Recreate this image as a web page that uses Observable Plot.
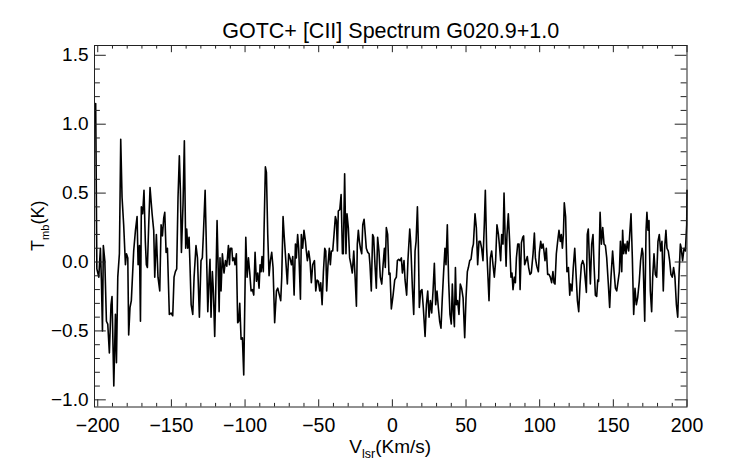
<!DOCTYPE html>
<html><head><meta charset="utf-8">
<script src="https://cdn.jsdelivr.net/npm/d3@7"></script>
<script src="https://cdn.jsdelivr.net/npm/@observablehq/plot@0.6"></script>
<style>html,body{margin:0;padding:0;background:#fff;} #chart{width:742px;height:464px;}</style>
</head><body><div id="chart"></div>
<script>
const titleText = "GOTC+ [CII] Spectrum G020.9+1.0";
const xMajorTicks = [-200, -150, -100, -50, 0, 50, 100, 150, 200];
const yMajorTicks = [-1.0, -0.5, 0.0, 0.5, 1.0, 1.5];
const velocity = [
-201.4,-200.6,-199.3,-198.2,-197.5,-196.8,-196.2,-195.2,-194.1,-193.2,-192.1,-191.0,-190.3,-189.1,-188.0,-187.3,-186.4,-185.3,-184.4,-183.5,
-182.4,-181.2,-180.5,-179.6,-179.0,-178.1,-177.2,-175.6,-174.4,-173.3,-172.6,-171.7,-171.0,-170.4,-169.5,-168.6,-167.7,-167.0,-166.3,-165.4,
-164.5,-163.1,-162.0,-161.3,-160.2,-159.1,-157.9,-157.0,-156.1,-155.2,-154.5,-153.6,-152.7,-151.4,-150.2,-149.1,-148.2,-147.3,-146.4,-145.5,
-144.6,-143.9,-143.2,-142.1,-141.2,-140.3,-139.6,-138.9,-138.0,-137.3,-136.6,-135.5,-134.6,-133.3,-132.3,-131.0,-129.9,-129.0,-128.3,-127.1,
-126.5,-125.3,-124.4,-123.8,-123.1,-122.2,-121.5,-120.6,-119.9,-119.0,-118.1,-117.6,-117.0,-116.3,-115.4,-114.3,-113.3,-112.4,-111.3,-110.6,
-110.0,-109.0,-108.4,-107.5,-106.8,-105.9,-105.0,-104.3,-103.6,-102.7,-101.8,-100.9,-99.5,-98.6,-97.7,-96.8,-95.9,-95.0,-94.1,-93.2,
-92.3,-91.4,-90.5,-89.8,-89.1,-88.5,-87.6,-87.1,-86.2,-85.5,-84.6,-83.7,-82.8,-81.9,-81.0,-79.9,-78.7,-77.8,-76.7,-75.8,
-75.1,-74.2,-73.5,-71.3,-70.4,-69.5,-68.5,-67.6,-66.7,-65.8,-65.2,-64.3,-63.6,-62.4,-61.8,-60.9,-60.0,-59.0,-58.4,-57.7,
-56.8,-55.9,-55.0,-54.1,-52.9,-52.0,-51.1,-50.2,-49.3,-48.6,-47.7,-46.8,-45.9,-45.2,-44.6,-43.7,-42.8,-42.1,-41.4,-40.5,
-39.6,-38.7,-38.0,-37.3,-36.7,-35.7,-34.8,-33.9,-33.3,-32.4,-31.5,-30.8,-29.9,-29.0,-28.1,-27.2,-26.2,-25.3,-24.4,-23.8,
-23.1,-22.4,-21.7,-20.8,-20.1,-19.2,-18.6,-17.7,-16.7,-15.8,-15.2,-14.3,-13.4,-12.7,-11.8,-10.9,-10.0,-9.1,-8.2,-7.2,
-6.3,-5.4,-4.8,-4.1,-3.2,-2.3,-1.6,-0.7,0.5,1.6,2.7,3.4,4.3,5.2,6.1,6.8,7.9,8.6,9.7,10.6,
11.8,12.4,13.6,14.5,15.4,16.1,17.0,17.6,18.3,19.2,20.1,21.0,22.2,23.1,24.0,24.9,25.8,26.7,27.6,28.5,
29.4,30.3,31.2,32.1,33.0,33.9,34.8,35.7,36.4,37.3,38.2,39.1,40.0,40.7,41.4,42.1,42.8,43.4,44.3,45.2,
46.1,47.0,48.0,49.1,50.0,50.9,51.6,52.5,53.4,54.3,55.0,56.1,57.0,57.9,58.8,59.7,60.6,61.5,62.4,63.1,
64.0,64.9,65.6,66.5,67.4,68.3,69.2,70.1,71.0,72.0,72.6,73.5,74.2,75.1,75.8,76.5,77.2,77.8,78.7,79.6,
80.5,81.2,81.9,82.8,83.5,84.2,85.1,86.0,86.7,87.6,88.5,89.1,89.8,90.7,91.6,92.5,93.4,94.3,95.5,96.4,
97.1,98.0,99.1,99.8,100.7,101.4,102.3,102.9,103.6,104.5,105.4,106.3,107.2,108.1,109.0,109.7,110.4,111.3,112.2,113.1,
114.0,114.7,115.4,116.1,116.7,117.6,118.5,119.5,120.4,121.0,121.9,122.8,123.8,124.7,125.6,126.5,127.4,128.3,129.2,130.1,
130.8,131.7,132.3,133.0,133.7,134.4,135.3,136.2,136.9,137.8,138.7,139.4,140.0,141.0,141.9,142.8,143.7,144.6,145.5,146.6,
147.5,148.4,149.5,150.5,151.4,152.3,153.2,154.1,154.8,155.7,156.3,157.0,157.9,158.6,159.5,160.4,161.1,162.0,162.9,163.8,
164.7,165.6,166.5,167.6,168.5,169.5,170.1,171.3,172.2,172.8,173.5,174.2,175.1,176.0,176.7,177.6,178.5,179.4,180.3,181.2,
182.1,183.0,183.9,184.8,185.7,186.4,187.3,188.2,189.1,190.0,190.9,191.8,192.8,193.7,194.6,195.5,196.1,197.0,198.0,198.9,
199.8,200.0
];
const tmb = [
1.15,-0.05,-0.11,0.10,-0.14,-0.50,0.12,0.01,-0.43,-0.45,-0.66,-0.31,-0.25,-0.90,-0.38,-0.73,-0.11,0.06,0.89,0.47,
0.27,-0.02,0.06,0.03,-0.53,-0.33,-0.28,0.08,0.23,0.33,-0.02,0.12,-0.43,0.40,0.35,0.52,0.15,-0.02,-0.04,0.27,
0.54,0.35,0.23,-0.11,0.20,-0.11,-0.21,0.27,0.19,0.32,0.36,0.07,0.10,-0.38,-0.37,-0.39,-0.11,-0.07,-0.05,0.47,
0.77,0.52,0.07,0.42,0.88,0.10,0.24,0.10,0.18,-0.05,-0.31,-0.38,-0.11,0.12,0.03,-0.40,0.01,0.03,0.20,0.52,
0.23,-0.36,-0.11,0.02,-0.40,-0.07,-0.21,-0.54,-0.21,0.30,-0.11,-0.36,0.03,-0.21,0.06,-0.08,0.01,-0.03,0.12,-0.02,
0.10,0.10,0.01,0.03,-0.02,0.06,-0.44,-0.43,-0.30,-0.56,-0.55,-0.82,0.18,-0.11,0.03,-0.08,-0.21,-0.20,-0.24,0.07,
-0.14,-0.08,-0.19,-0.02,-0.07,0.04,-0.07,0.23,0.69,0.65,0.20,-0.10,0.01,0.07,-0.04,-0.44,-0.21,-0.19,-0.24,-0.28,
-0.11,0.33,0.20,-0.16,0.06,0.03,-0.02,0.04,-0.24,0.13,0.03,0.20,0.10,-0.27,0.20,0.10,0.23,0.15,0.08,0.01,
0.08,0.01,-0.15,-0.02,0.01,-0.21,-0.13,-0.14,-0.21,-0.15,-0.31,-0.07,0.10,0.08,-0.21,-0.02,0.10,-0.02,0.08,0.08,
0.20,0.33,0.30,0.08,0.37,0.38,0.49,0.06,0.06,0.64,0.06,0.35,0.25,0.03,-0.02,-0.08,0.08,-0.11,-0.32,0.13,
0.23,0.15,0.10,0.06,0.27,0.31,0.23,0.10,0.07,0.06,-0.02,-0.21,0.20,0.18,-0.02,-0.19,0.18,0.08,-0.11,-0.16,
-0.02,0.10,-0.04,0.25,0.20,-0.09,-0.08,-0.34,-0.24,-0.13,-0.11,0.01,0.02,0.01,0.03,-0.08,0.01,-0.13,-0.24,0.02,
0.24,0.15,-0.19,-0.38,0.08,0.15,0.40,0.15,-0.33,-0.21,-0.20,-0.33,-0.54,-0.31,-0.21,-0.40,-0.28,-0.37,-0.21,-0.01,
-0.31,-0.21,-0.33,-0.43,-0.48,-0.26,-0.07,0.10,-0.02,0.27,-0.14,-0.38,-0.45,-0.16,-0.36,-0.47,-0.04,-0.31,-0.28,-0.38,
-0.16,-0.19,-0.26,-0.55,-0.26,-0.07,-0.04,0.01,0.02,0.10,0.13,0.35,0.25,-0.02,0.15,0.15,0.10,0.01,0.27,0.52,
0.10,-0.11,-0.28,0.03,0.08,-0.02,-0.11,0.01,0.27,0.20,0.13,0.01,0.20,0.13,0.50,0.20,-0.03,0.20,0.35,0.15,
-0.11,-0.08,-0.20,-0.11,-0.15,0.03,0.13,0.13,-0.20,0.14,0.18,0.19,-0.02,0.01,0.04,-0.04,-0.09,-0.08,0.06,0.21,
0.03,-0.03,-0.07,0.07,0.15,0.10,0.13,0.08,0.01,0.10,-0.09,-0.09,-0.11,-0.15,-0.07,-0.15,-0.16,0.06,0.15,0.23,
0.15,0.20,0.10,0.20,0.43,0.33,-0.07,-0.04,-0.24,-0.16,-0.21,-0.04,0.10,-0.09,-0.28,-0.36,-0.16,-0.02,0.01,-0.02,
-0.11,-0.22,0.20,0.24,0.03,-0.16,0.13,0.20,-0.02,-0.24,-0.25,-0.13,-0.14,0.36,0.13,0.25,0.13,0.12,0.03,-0.16,
-0.33,-0.11,0.08,-0.07,-0.19,-0.21,-0.14,-0.07,0.15,-0.07,0.23,0.06,0.13,0.06,0.15,0.08,0.20,0.35,0.03,-0.38,
-0.19,-0.31,-0.26,-0.14,0.01,0.10,0.06,-0.43,0.23,0.36,0.23,0.30,-0.21,-0.36,-0.11,0.06,-0.09,-0.11,0.15,0.20,
0.08,0.15,-0.21,0.10,0.23,0.10,0.08,0.01,-0.09,-0.11,-0.04,-0.11,-0.31,-0.40,-0.09,0.13,0.10,0.01,0.10,0.08,
0.27,0.52
];

const W = 742, H = 464, mL = 94, mR = 55.5, mT = 45, mB = 57.5;
const ph = H - mT - mB, pw = W - mL - mR;
const xMinorTicks = d3.range(-200, 201, 10).filter(d => d % 50 !== 0);
const yMinorTicks = d3.range(-10, 16, 1).filter(d => d % 5 !== 0).map(d => d / 10);
const data = velocity.map((v, i) => ({v, t: tmb[i]}));
const font = "'Liberation Sans', Arial, Helvetica, sans-serif";
const ink = "#222";
const fx = d3.format("d"), fy = d3.format(".1f");

const plot = Plot.plot({
  width: W, height: H,
  marginLeft: mL, marginRight: mR, marginTop: mT, marginBottom: mB,
  style: {fontFamily: font, background: "white", color: "black", overflow: "visible"},
  x: {domain: [-202.2, 200], axis: null},
  y: {domain: [-1.052, 1.571], axis: null},
  marks: [
    Plot.line(data, {x: "v", y: "t", stroke: "black", strokeWidth: 1.6}),
    Plot.tickX(xMajorTicks, {x: d => d, insetTop: ph - 7.2, stroke: ink}),
    Plot.tickX(xMinorTicks, {x: d => d, insetTop: ph - 3.6, stroke: ink}),
    Plot.tickX(xMajorTicks, {x: d => d, insetBottom: ph - 7.2, stroke: ink}),
    Plot.tickX(xMinorTicks, {x: d => d, insetBottom: ph - 3.6, stroke: ink}),
    Plot.tickY(yMajorTicks, {y: d => d, insetRight: pw - 11.8, stroke: ink}),
    Plot.tickY(yMinorTicks, {y: d => d, insetRight: pw - 5.9, stroke: ink}),
    Plot.tickY(yMajorTicks, {y: d => d, insetLeft: pw - 11.8, stroke: ink}),
    Plot.tickY(yMinorTicks, {y: d => d, insetLeft: pw - 5.9, stroke: ink}),
    Plot.frame({stroke: ink, strokeWidth: 1}),
    Plot.text(xMajorTicks, {x: d => d, frameAnchor: "bottom", lineAnchor: "middle", dy: 18.8, text: d => fx(d), fontSize: 19.5, fill: "black"}),
    Plot.text(yMajorTicks, {y: d => d, frameAnchor: "left", lineAnchor: "middle", textAnchor: "end", dx: -6, text: d => fy(d), fontSize: 19, fill: "black"}),
    Plot.text([titleText], {frameAnchor: "top", lineAnchor: "middle", dy: -14.2, text: d => d, fontSize: 21.5, fill: "black"})
  ]
});

const svg = d3.select(plot);
const xl = svg.append("text")
  .attr("x", mL + pw / 2).attr("y", H - mB + 46.5)
  .attr("text-anchor", "middle").attr("font-size", 19).attr("font-family", font).attr("fill", "black");
xl.append("tspan").text("V");
xl.append("tspan").attr("font-size", 12.5).attr("dy", 5).text("lsr");
xl.append("tspan").attr("dy", -5).text("(Km/s)");

const yl = svg.append("text")
  .attr("transform", `translate(44,${mT + ph / 2}) rotate(-90)`)
  .attr("text-anchor", "middle").attr("font-size", 18).attr("font-family", font).attr("fill", "black");
yl.append("tspan").text("T");
yl.append("tspan").attr("font-size", 11).attr("dy", 4.5).text("mb");
yl.append("tspan").attr("dy", -4.5).text("(K)");

document.getElementById("chart").appendChild(plot);
</script>
</body></html>
